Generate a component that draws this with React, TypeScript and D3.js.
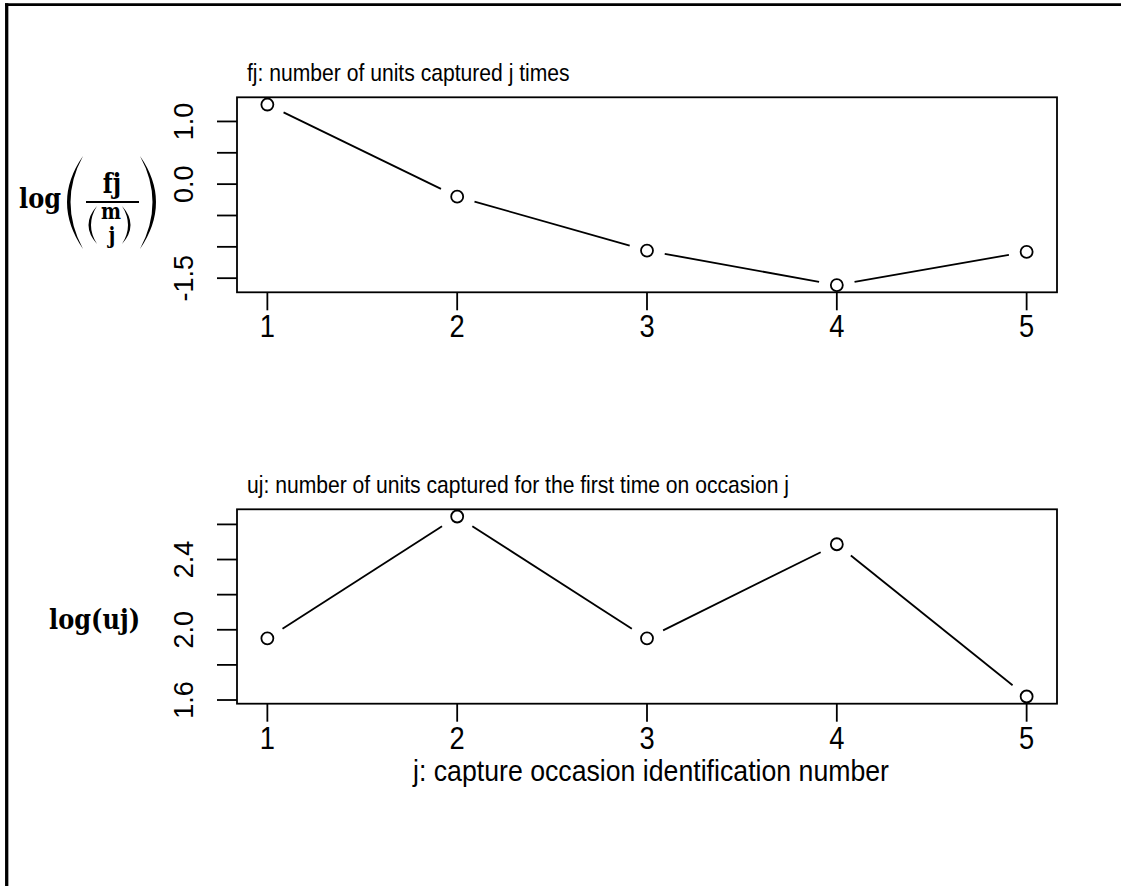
import React from 'react';
import * as d3 from 'd3';

// data
const occasions = [1, 2, 3, 4, 5];
const logFjRatio = [1.27, -0.2, -1.06, -1.61, -1.08];
const logUj = [1.951, 2.645, 1.951, 2.487, 1.62];
const xTickLabels = ['1', '2', '3', '4', '5'];
const topTicks = [-1.5, -1.0, -0.5, 0.0, 0.5, 1.0];
const topTickLabels = ['-1.5', '', '', '0.0', '', '1.0'];
const bottomTicks = [1.6, 1.8, 2.0, 2.2, 2.4, 2.6];
const bottomTickLabels = ['1.6', '', '2.0', '', '2.4', ''];
const topTitle = 'fj: number of units captured j times';
const bottomTitle = 'uj: number of units captured for the first time on occasion j';
const xTitle = 'j: capture occasion identification number';

const W = 1121;
const H = 886;
const SANS = '"Liberation Sans", Arial, sans-serif';
const SERIF = '"DejaVu Serif", serif';
const GAP = 18;

const pad = (ext: [number, number]): [number, number] => {
  const r = ext[1] - ext[0];
  return [ext[0] - 0.04 * r, ext[1] + 0.04 * r];
};

const x = d3.scaleLinear()
  .domain(pad(d3.extent(occasions) as [number, number]))
  .range([237, 1057]);

// text squeezed sideways, like the narrow glyphs in the picture
const tf = (px: number, py: number, sx: number, rot = 0) =>
  `translate(${px},${py}) scale(${sx},1)${rot ? ` rotate(${rot})` : ''}`;

type PanelProps = {
  values: number[];
  ticks: number[];
  tickLabels: string[];
  top: number;
  bottom: number;
  title: string;
  xlab?: string;
};

const Panel = ({ values, ticks, tickLabels, top, bottom, title, xlab }: PanelProps) => {
  const y = d3.scaleLinear()
    .domain(pad(d3.extent(values) as [number, number]))
    .range([bottom, top]);
  const pts = occasions.map((o, i) => [x(o), y(values[i])]);

  // type="b": segments stop short of the points
  const segs = d3.pairs(pts).map(([a, b]) => {
    const dx = b[0] - a[0], dy = b[1] - a[1];
    const len = Math.hypot(dx, dy);
    const ux = dx / len, uy = dy / len;
    return [a[0] + ux * GAP, a[1] + uy * GAP, b[0] - ux * GAP, b[1] - uy * GAP];
  });

  const [x0, x1] = x.range();
  return (
    <g>
      <text transform={tf(247, top - 16, 0.88)} fontFamily={SANS} fontSize={24}>{title}</text>
      <rect x={x0} y={top} width={x1 - x0} height={bottom - top}
        fill="none" stroke="#000" strokeWidth={1.8} />
      {segs.map((s, i) => (
        <line key={i} x1={s[0]} y1={s[1]} x2={s[2]} y2={s[3]}
          stroke="#000" strokeWidth={1.8} />
      ))}
      {pts.map((p, i) => (
        <circle key={i} cx={p[0]} cy={p[1]} r={6}
          fill="none" stroke="#000" strokeWidth={1.8} />
      ))}
      {occasions.map((o, i) => (
        <g key={i}>
          <line x1={x(o)} x2={x(o)} y1={bottom} y2={bottom + 18}
            stroke="#000" strokeWidth={1.8} />
          <text transform={tf(x(o), bottom + 45, 0.88)} textAnchor="middle"
            fontFamily={SANS} fontSize={31}>{xTickLabels[i]}</text>
        </g>
      ))}
      {ticks.map((t, i) => (
        <g key={i}>
          <line x1={x0 - 20} x2={x0} y1={y(t)} y2={y(t)}
            stroke="#000" strokeWidth={1.8} />
          {tickLabels[i] && (
            <text transform={tf(193, y(t), 1, -90)}
              textAnchor="middle" fontFamily={SANS} fontSize={27}>{tickLabels[i]}</text>
          )}
        </g>
      ))}
      {xlab && (
        <text transform={tf((x0 + x1) / 2 + 4, bottom + 77, 0.92)} textAnchor="middle"
          fontFamily={SANS} fontSize={29}>{xlab}</text>
      )}
    </g>
  );
};

const bold = { fontFamily: SERIF, fontWeight: 700 } as const;

const TopYLabel = () => (
  <g>
    <text transform={tf(19, 208, 0.86)} {...bold} fontSize={28}>log</text>
    {/* big parentheses */}
    <path d="M83,156 Q51,202 83,249 Q58,202 83,156 Z" fill="#000" />
    <path d="M140,156 Q172,202 140,249 Q165,202 140,156 Z" fill="#000" />
    <text transform={tf(112, 193, 0.86)} textAnchor="middle" {...bold} fontSize={27}>fj</text>
    <line x1={86} x2={139} y1={202} y2={202} stroke="#000" strokeWidth={1.8} />
    {/* binomial (m j) */}
    <path d="M97,206 Q80,225 97,244 Q85,225 97,206 Z" fill="#000" />
    <path d="M122,206 Q139,225 122,244 Q134,225 122,206 Z" fill="#000" />
    <text transform={tf(111, 219, 0.86)} textAnchor="middle" {...bold} fontSize={22}>m</text>
    <text transform={tf(112, 243, 0.86)} textAnchor="middle" {...bold} fontSize={22}>j</text>
  </g>
);

const App = () => (
  <svg width={W} height={H} style={{ position: 'absolute', left: 0, top: 0, background: '#fff' }}>
    <rect width={W} height={H} fill="#fff" />
    {/* page frame */}
    <line x1={5} x2={W} y1={4.7} y2={4.7} stroke="#000" strokeWidth={2.8} />
    <line x1={6.7} x2={6.7} y1={3.3} y2={H} stroke="#000" strokeWidth={3.3} />
    <Panel values={logFjRatio} ticks={topTicks} tickLabels={topTickLabels}
      top={97.3} bottom={292.3} title={topTitle} />
    <Panel values={logUj} ticks={bottomTicks} tickLabels={bottomTickLabels}
      top={509.3} bottom={703.7} title={bottomTitle} xlab={xTitle} />
    <TopYLabel />
    <text transform={tf(49, 629, 0.86)} {...bold} fontSize={28}>log(uj)</text>
  </svg>
);

export default App;
